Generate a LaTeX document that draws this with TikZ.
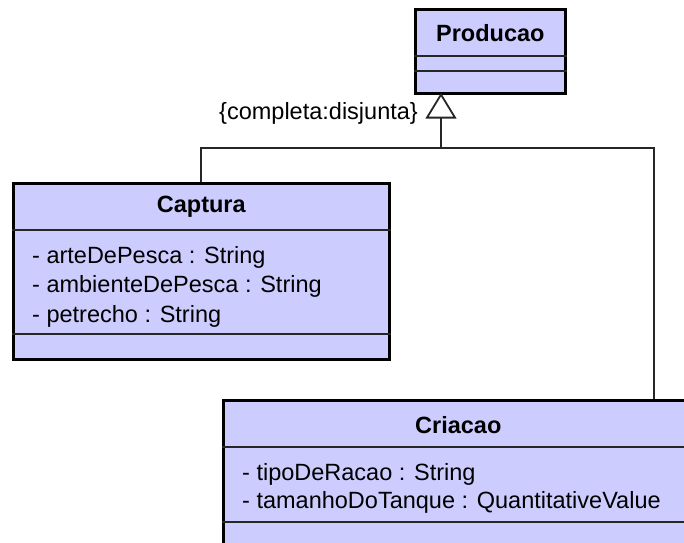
\documentclass[tikz,border=0pt]{standalone}
\usepackage{fontspec}
\setmainfont{Liberation Sans}
\usetikzlibrary{calc}
\definecolor{classfill}{RGB}{204,204,255}
\tikzset{
  classbox/.style={draw=black, line width=2.6pt, fill=classfill, inner sep=0pt, anchor=north west},
  sepline/.style={draw=black!85, line width=1.3pt},
  title/.style={font=\fontsize{23.5}{28}\selectfont\bfseries, inner sep=0pt},
  attr/.style={font=\fontsize{23.5}{28}\selectfont, inner sep=0pt, anchor=base west},
  conn/.style={draw=black!85, line width=1.8pt},
  gentri/.style={draw=black!85, line width=1.8pt, fill=white, line join=miter},
}
\begin{document}
\begin{tikzpicture}[x=1pt, y=-1pt]
  \useasboundingbox (0,0) rectangle (684,542);
  \clip (0,0) rectangle (684,542);

  % superclass
  \node[classbox, minimum width=150pt, minimum height=84pt] (producao) at (414,8) {};
  \draw[sepline] ($(producao.north west)+(0,48)$) -- ($(producao.north east)+(0,48)$);
  \draw[sepline] ($(producao.north west)+(0,63)$) -- ($(producao.north east)+(0,63)$);
  \node[title] (producaoname) at ($(producao.north)+(0,25)$) {Producao};

  % subclass Captura
  \node[classbox, minimum width=376pt, minimum height=176pt] (captura) at (12,182) {};
  \draw[sepline] ($(captura.north west)+(0,48)$) -- ($(captura.north east)+(0,48)$);
  \draw[sepline] ($(captura.north west)+(0,152)$) -- ($(captura.north east)+(0,152)$);
  \node[title] (capturaname) at ($(captura.north)+(0,25)$) {Captura};
  \node[attr] (c1) at (32,263) {- arteDePesca : String};
  \node[attr] (c2) at (32,292.5) {- ambienteDePesca : String};
  \node[attr] (c3) at (32,322) {- petrecho : String};

  % subclass Criacao
  \node[classbox, minimum width=470pt, minimum height=147pt] (criacao) at (222,399) {};
  \draw[sepline] ($(criacao.north west)+(0,48)$) -- ($(criacao.north east)+(0,48)$);
  \draw[sepline] ($(criacao.north west)+(0,123)$) -- ($(criacao.north east)+(0,123)$);
  \node[title] (criacaoname) at ($(criacao.north)+(0,26)$) {Criacao};
  \node[attr] (r1) at (242,480) {- tipoDeRacao : String};
  \node[attr] (r2) at (242,508) {- tamanhoDoTanque : QuantitativeValue};

  % generalization set
  \coordinate (tip) at ($(producao.south west)+(27,0)$);
  \coordinate (base) at ($(tip)+(0,23)$);
  \coordinate (bus) at ($(tip)+(0,53)$);
  \coordinate (criacaoin) at ($(criacao.north west)+(432,0)$);
  \draw[conn] (captura.north) |- (bus) -| (criacaoin);
  \draw[conn] (bus) -- (base);
  \draw[gentri] (tip) -- ($(base)+(-14,0)$) -- ($(base)+(14,0)$) -- cycle;
  \node[font=\fontsize{23.5}{28}\selectfont, inner sep=0pt, anchor=east] (gsetlabel) at (418,113) {\{completa:disjunta\}};
\end{tikzpicture}
\end{document}
